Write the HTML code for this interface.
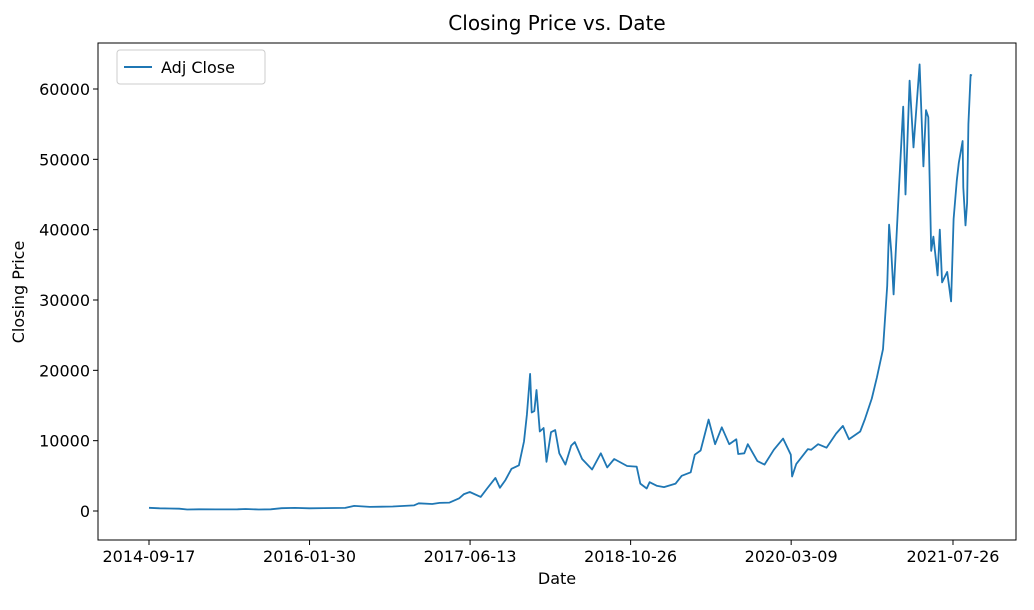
<!DOCTYPE html>
<html><head><meta charset="utf-8"><style>
body{margin:0;background:#fff;}
text{font-family:"DejaVu Sans","Liberation Sans",sans-serif;fill:#000;}
</style></head><body>
<svg id="chart" width="1034" height="605" xmlns="http://www.w3.org/2000/svg">
<rect width="1034" height="605" fill="#fff"/>
<text x="557" y="30" font-size="20" text-anchor="middle">Closing Price vs. Date</text>
<text x="557" y="584" font-size="16" text-anchor="middle">Date</text>
<text transform="translate(24,292) rotate(-90)" font-size="16" text-anchor="middle">Closing Price</text>
<g id="plot"></g>
<rect x="98" y="43" width="918" height="497" fill="none" stroke="#000" stroke-width="1"/>
<g>
<rect x="117" y="50" width="148" height="34" rx="3" fill="#fff" stroke="#ccc"/>
<line x1="124" y1="67" x2="152" y2="67" stroke="#1f77b4" stroke-width="2"/>
<text x="161" y="73" font-size="16">Adj Close</text>
</g>
</svg>
<script>
const dates=["2014-09-17","2014-10-20","2014-11-20","2014-12-20","2015-01-14","2015-02-20","2015-04-15","2015-06-20","2015-07-15","2015-08-25","2015-10-01","2015-11-04","2015-12-15","2016-01-30","2016-03-15","2016-05-20","2016-06-17","2016-08-05","2016-10-15","2016-12-20","2017-01-04","2017-02-15","2017-03-10","2017-04-10","2017-05-10","2017-05-25","2017-06-12","2017-07-16","2017-08-05","2017-08-31","2017-09-14","2017-10-01","2017-10-20","2017-11-12","2017-11-28","2017-12-07","2017-12-17","2017-12-22","2017-12-30","2018-01-06","2018-01-16","2018-01-28","2018-02-06","2018-02-20","2018-03-05","2018-03-18","2018-04-06","2018-04-24","2018-05-05","2018-05-28","2018-06-28","2018-07-25","2018-08-14","2018-09-05","2018-10-15","2018-11-14","2018-11-25","2018-12-15","2018-12-24","2019-01-15","2019-02-07","2019-03-15","2019-04-03","2019-05-01","2019-05-14","2019-06-01","2019-06-26","2019-07-16","2019-08-06","2019-08-29","2019-09-20","2019-09-26","2019-10-15","2019-10-26","2019-11-25","2019-12-17","2020-01-15","2020-02-13","2020-03-08","2020-03-12","2020-03-25","2020-04-30","2020-05-10","2020-06-01","2020-06-27","2020-07-27","2020-08-17","2020-09-05","2020-10-10","2020-10-25","2020-11-15","2020-12-01","2020-12-20","2021-01-02","2021-01-08","2021-01-15","2021-01-22","2021-02-08","2021-02-21","2021-02-28","2021-03-13","2021-03-25","2021-04-13","2021-04-25","2021-05-03","2021-05-10","2021-05-19","2021-05-26","2021-06-08","2021-06-15","2021-06-22","2021-07-08","2021-07-20","2021-07-28","2021-08-07","2021-08-13","2021-08-25","2021-08-27","2021-09-03","2021-09-08","2021-09-12","2021-09-19","2021-09-23"];
const values=[457,390,360,330,210,240,225,245,285,220,240,400,440,380,410,440,720,590,640,790,1100,1000,1150,1200,1800,2400,2700,2000,3200,4700,3300,4400,6000,6500,9900,13700,19500,14000,14200,17200,11300,11800,7000,11200,11500,8200,6600,9300,9800,7400,5900,8200,6200,7400,6400,6300,3900,3200,4100,3600,3400,3900,5000,5500,8000,8600,13000,9500,11900,9500,10200,8100,8200,9500,7100,6600,8700,10300,8000,4900,6700,8800,8700,9500,9000,11000,12100,10200,11300,13100,16000,19000,23000,32000,40700,36800,30800,46000,57500,45000,61200,51700,63500,49000,57000,56000,37000,39000,33500,40000,32500,34000,29800,41500,47000,49500,52600,46000,40600,43800,55000,62000,61900];
const xTickLabels=["2014-09-17","2016-01-30","2017-06-13","2018-10-26","2020-03-09","2021-07-26"];
const yTicks=[0,10000,20000,30000,40000,50000,60000];
const base=Date.UTC(2014,8,17);
function day(s){const p=s.split("-");return (Date.UTC(+p[0],p[1]-1,+p[2])-base)/86400000;}
function X(s){return 149+day(s)*0.32108;}
function Y(v){return 511-v*422/60000;}
const NS="http://www.w3.org/2000/svg";
const g=document.getElementById("plot");
function mk(t,a,parent){const e=document.createElementNS(NS,t);for(const k in a)e.setAttribute(k,a[k]);(parent||g).appendChild(e);return e;}
xTickLabels.forEach(l=>{const x=X(l);
const t=mk("line",{x1:x,x2:x,y1:540,y2:545,stroke:"#000"});


const tx=mk("text",{x:x,y:562,"font-size":"16","text-anchor":"middle"});tx.textContent=l;

});
yTicks.forEach(v=>{const y=Y(v);
const t=mk("line",{x1:93,x2:98,y1:y,y2:y,stroke:"#000"});


const tx=mk("text",{x:90,y:y+6,"font-size":"16","text-anchor":"end"});tx.textContent=v;

});
const d=dates.map((s,i)=>(i?"L":"M")+X(s).toFixed(1)+" "+Y(values[i]).toFixed(1)).join(" ");
const line=mk("path",{d:d,fill:"none",stroke:"#1f77b4","stroke-width":"1.8","stroke-linejoin":"round"});


</script>
</body></html>
